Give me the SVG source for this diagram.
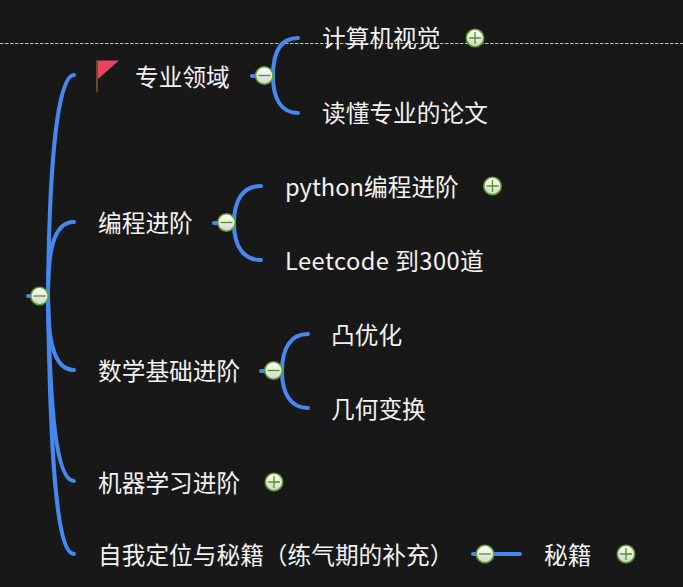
<svg xmlns="http://www.w3.org/2000/svg" width="683" height="587" viewBox="0 0 683 587">
<defs>
<linearGradient id="g" x1="0" y1="0" x2="0" y2="1"><stop offset="0" stop-color="#ffffff"/><stop offset="1" stop-color="#d4d4d4"/></linearGradient>
<g id="minus"><circle r="8.700" fill="url(#g)" stroke="#5fa324" stroke-width="1.500"/><path d="M-6 0H6" stroke="#4c9a10" stroke-width="1.300"/></g>
<g id="plus"><circle r="8.700" fill="url(#g)" stroke="#5fa324" stroke-width="1.500"/><path d="M-6 0H6M0 -6V6" stroke="#4c9a10" stroke-width="1.300"/></g>
</defs>
<style>
text{font-family:"Noto Sans CJK SC","Liberation Sans",sans-serif;font-size:23.700px;fill:#f2f2f2}
.c{fill:none;stroke:#4488f0;stroke-width:4;stroke-linecap:round}
</style>
<rect width="683" height="587" fill="#181818"/>
<path d="M0 43.500H683" stroke="#bdbdbd" stroke-width="1" stroke-dasharray="3.500 1.500" fill="none"/>
<g id="connectors">
<path class="c" d="M28 296H40"/>
<path class="c" d="M48 296C49 180 56 75 74 75"/>
<path class="c" d="M48 296C48 255 52 222 74 222"/>
<path class="c" d="M48 296C48 335 52 370 74 370"/>
<path class="c" d="M48 296C50 410 56 481 74 481"/>
<path class="c" d="M48 296C50 450 56 554 74 554"/>
<path class="c" d="M252 76H264"/>
<path class="c" d="M273 76C273 50 282 38 298 38"/>
<path class="c" d="M273 76C273 100 282 113 298 113"/>
<path class="c" d="M214 223H226"/>
<path class="c" d="M234 223C234 200 243 186 261 186"/>
<path class="c" d="M234 223C234 246 243 260 261 260"/>
<path class="c" d="M261 371H273"/>
<path class="c" d="M282 371C282 348 291 334 308 334"/>
<path class="c" d="M282 371C282 394 291 408 308 408"/>
<path class="c" d="M473 554H520"/>
</g>
<g id="root"><use href="#minus" x="39.500" y="296"/></g>
<g id="n1"><path d="M97 60V92" stroke="#6b4a2b" stroke-width="2" fill="none"/><path d="M98 60.500H119L98 79Z" fill="#ea4460"/><text x="135" y="86">专业领域</text><use href="#minus" x="264.300" y="75.500"/></g>
<g id="n1a"><text x="322" y="47">计算机视觉</text><use href="#plus" x="475" y="38"/></g>
<g id="n1b"><text x="322" y="122">读懂专业的论文</text></g>
<g id="n2"><text x="98" y="232">编程进阶</text><use href="#minus" x="226.500" y="222.500"/></g>
<g id="n2a"><text x="285" y="196">python编程进阶</text><use href="#plus" x="492.500" y="186"/></g>
<g id="n2b"><text x="285" y="270" letter-spacing="0.450">Leetcode 到300道</text></g>
<g id="n3"><text x="98" y="380">数学基础进阶</text><use href="#minus" x="273.500" y="370.500"/></g>
<g id="n3a"><text x="331" y="344">凸优化</text></g>
<g id="n3b"><text x="331" y="418">几何变换</text></g>
<g id="n4"><text x="98" y="492">机器学习进阶</text><use href="#plus" x="274" y="482"/></g>
<g id="n5"><text x="98" y="564">自我定位与秘籍（练气期的补充）</text><use href="#minus" x="485" y="554"/></g>
<g id="n5a"><text x="544" y="564">秘籍</text><use href="#plus" x="626" y="554"/></g>
</svg>
